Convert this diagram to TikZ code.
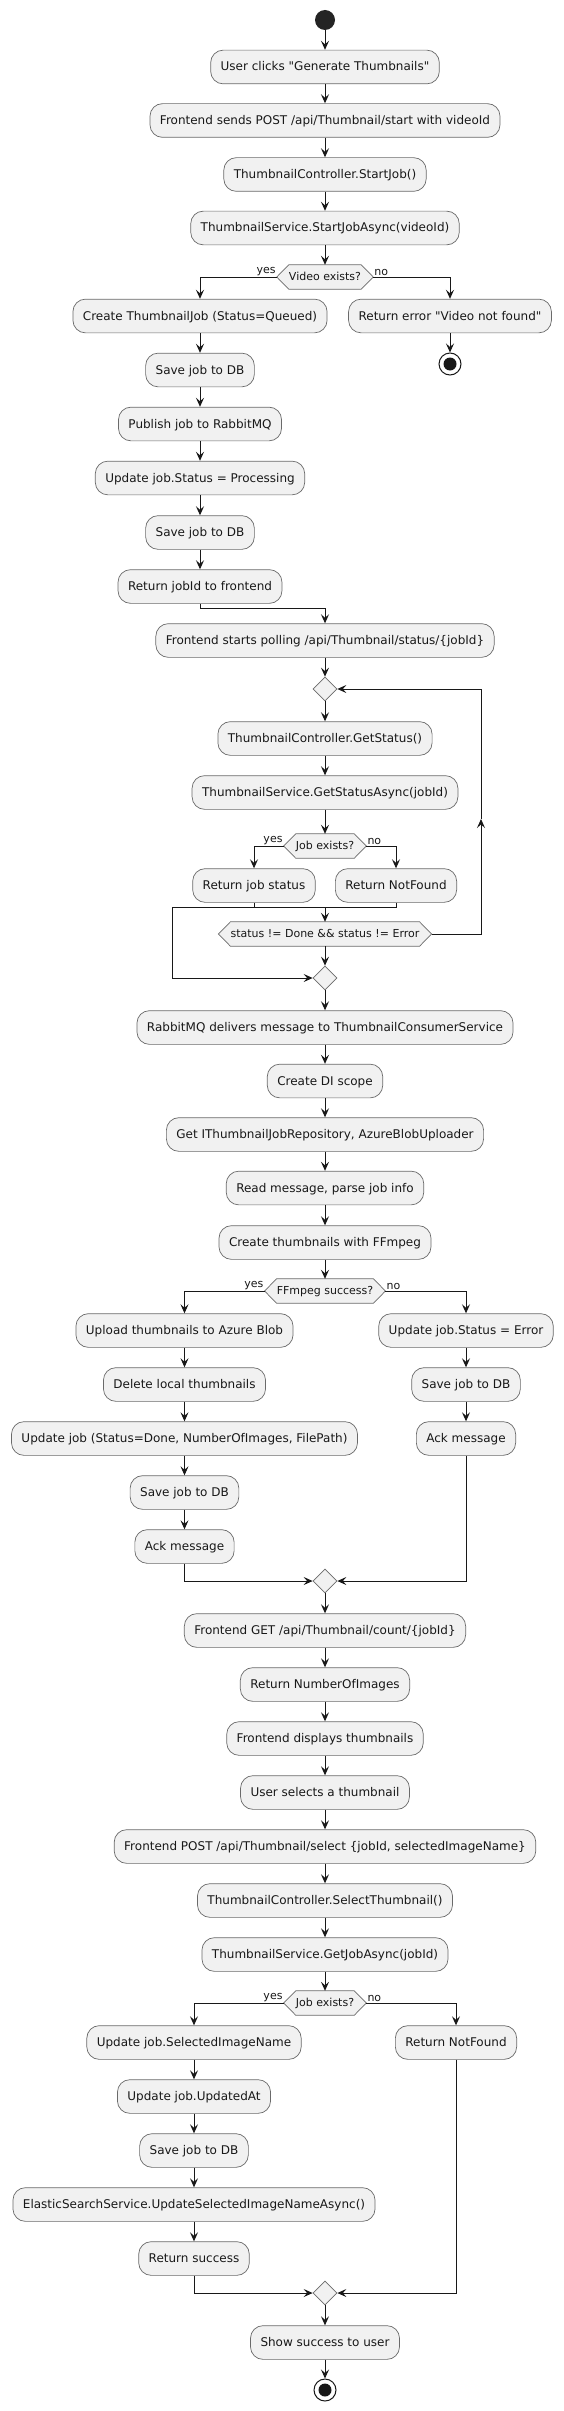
\documentclass[tikz,border=0pt]{standalone}
\usepackage{fontspec}
\setmainfont{DejaVu Sans}
\newfontfamily\plainfont{DejaVu Sans}[Ligatures=ResetAll]
\usetikzlibrary{arrows.meta,shapes.geometric,backgrounds}
\definecolor{boxfill}{HTML}{F1F1F1}
\definecolor{boxline}{HTML}{6A6A6A}
\definecolor{ink}{HTML}{181818}
\newcommand\drawhexagon[1]{%
  \draw[fill=boxfill,draw=boxline,line width=0.7pt]
    (#1.west) -- ([xshift=12pt]#1.north west) -- ([xshift=-12pt]#1.north east)
    -- (#1.east) -- ([xshift=-12pt]#1.south east) -- ([xshift=12pt]#1.south west) -- cycle;}
\newcommand\dq{{\plainfont\char34\relax}}
\begin{document}
\begin{tikzpicture}[x=1pt,y=-1pt,
  act/.style={rectangle, rounded corners=12.5pt, fill=boxfill, draw=boxline, line width=0.7pt,
    inner xsep=10pt, inner ysep=0pt, minimum height=33.7pt, text height=9.5pt, text depth=1.5pt,
    font=\fontsize{12}{14}\selectfont, text=ink},
  dec/.style={rectangle, inner xsep=12pt, inner ysep=0pt, minimum height=24pt,
    text height=8.5pt, text depth=2pt, font=\fontsize{11}{13}\selectfont, text=ink},
  mrg/.style={diamond, fill=boxfill, draw=boxline, line width=0.7pt,
    minimum width=24pt, minimum height=24pt, inner sep=0pt},
  arr/.style={draw=ink, line width=1pt, -{Stealth[length=9pt,width=8pt,inset=3.5pt]}},
  ln/.style={draw=ink, line width=1pt},
  lab/.style={font=\fontsize{11}{13}\selectfont, inner sep=1pt, text=ink},
  startnode/.style={circle, fill=ink!95, minimum size=20pt, inner sep=0pt},
  endnode/.style={circle, draw=ink, line width=1pt, fill=white, minimum size=22pt, inner sep=0pt,
    path picture={\fill[ink] (path picture bounding box.center) circle (6.5pt);}}
]
\useasboundingbox (0,0) rectangle (563,2411);

% nodes
\node[startnode] (st) at (325,20) {};
\node[act] (b1) at (325,67) {User clicks \dq Generate Thumbnails\dq};
\node[act] (b2) at (325,120.5) {Frontend sends POST /api/Thumbnail/start with videoId};
\node[act] (b3) at (325,174.5) {ThumbnailController.StartJob()};
\node[act] (b4) at (325,228) {ThumbnailService.StartJobAsync(videoId)};
\node[dec] (d1) at (325,277) {Video exists?};
\node[act] (b5) at (200,316) {Create ThumbnailJob (Status=Queued)};
\node[act] (b6) at (450,316) {Return error \dq Video not found\dq};
\node[endnode] (en1) at (450,364) {};
\node[act] (b7) at (200,370) {Save job to DB};
\node[act] (b8) at (200,424) {Publish job to RabbitMQ};
\node[act] (b9) at (200,478) {Update job.Status = Processing};
\node[act] (b10) at (200,532.5) {Save job to DB};
\node[act] (b11) at (200,586.5) {Return jobId to frontend};
\coordinate (j1) at (325,608);
\node[act] (b12) at (325,640.5) {Frontend starts polling /api/Thumbnail/status/\{jobId\}};
\node[mrg] (m1) at (325,689) {};
\node[act] (b13) at (325,738.5) {ThumbnailController.GetStatus()};
\node[act] (b14) at (325,792.5) {ThumbnailService.GetStatusAsync(jobId)};
\node[dec] (d2) at (325,846) {Job exists?};
\node[act] (b15) at (254,885.5) {Return job status};
\node[act] (b16) at (396,885.5) {Return NotFound};
\coordinate (jl) at (172,907);
\coordinate (jm) at (325,907);
\node[dec] (h1) at (325,934) {status != Done \&\& status != Error};
\coordinate (lpa) at (481,819);
\node[mrg] (m2) at (325,978) {};
\node[act] (b17) at (325,1027.5) {RabbitMQ delivers message to ThumbnailConsumerService};
\node[act] (b18) at (325,1081) {Create DI scope};
\node[act] (b19) at (325,1134.5) {Get IThumbnailJobRepository, AzureBlobUploader};
\node[act] (b20) at (325,1188) {Read message, parse job info};
\node[act] (b21) at (325,1242.5) {Create thumbnails with FFmpeg};
\node[dec] (d3) at (325,1291) {FFmpeg success?};
\node[act] (b22) at (184.5,1330.5) {Upload thumbnails to Azure Blob};
\node[act] (b23) at (466,1330.5) {Update job.Status = Error};
\node[act] (b24) at (184.5,1384.5) {Delete local thumbnails};
\node[act] (b26) at (466,1384.5) {Save job to DB};
\node[act] (b25) at (184.5,1438.5) {Update job (Status=Done, NumberOfImages, FilePath)};
\node[act] (b27) at (466,1438.5) {Ack message};
\node[act] (b28) at (184.5,1492.5) {Save job to DB};
\node[act] (b29) at (184.5,1546.5) {Ack message};
\node[mrg] (m3) at (325,1581) {};
\node[act] (b30) at (325,1630.5) {Frontend GET /api/Thumbnail/count/\{jobId\}};
\node[act] (b31) at (325,1684.5) {Return NumberOfImages};
\node[act] (b32) at (325,1738.5) {Frontend displays thumbnails};
\node[act] (b33) at (325,1792.5) {User selects a thumbnail};
\node[act] (b34) at (325,1846.5) {Frontend POST /api/Thumbnail/select \{jobId, selectedImageName\}};
\node[act] (b35) at (325,1900.5) {ThumbnailController.SelectThumbnail()};
\node[act] (b36) at (325,1954.5) {ThumbnailService.GetJobAsync(jobId)};
\node[dec] (d4) at (325,2003) {Job exists?};
\node[act] (b37) at (194,2042.5) {Update job.SelectedImageName};
\node[act] (b38) at (456,2042.5) {Return NotFound};
\node[act] (b39) at (194,2096.5) {Update job.UpdatedAt};
\node[act] (b40) at (194,2150.5) {Save job to DB};
\node[act] (b41) at (194,2204.5) {ElasticSearchService.UpdateSelectedImageNameAsync()};
\node[act] (b42) at (194,2258.5) {Return success};
\node[mrg] (m4) at (325,2293) {};
\node[act] (b43) at (325,2342.5) {Show success to user};
\node[endnode] (en2) at (325,2390) {};

\begin{scope}[on background layer]
  \fill[white] (0,0) rectangle (563,2411);
  \drawhexagon{d1}
  \drawhexagon{d2}
  \drawhexagon{h1}
  \drawhexagon{d3}
  \drawhexagon{d4}
\end{scope}

% branch labels
\node[lab, anchor=south east] (y1) at (d1.west) {yes};
\node[lab, anchor=south west] (n1) at (d1.east) {no};
\node[lab, anchor=south east] (y2) at (d2.west) {yes};
\node[lab, anchor=south west] (n2) at (d2.east) {no};
\node[lab, anchor=south east] (y3) at (d3.west) {yes};
\node[lab, anchor=south west] (n3) at (d3.east) {no};
\node[lab, anchor=south east] (y4) at (d4.west) {yes};
\node[lab, anchor=south west] (n4) at (d4.east) {no};

% connectors
\draw[arr] (st) -- (b1);
\draw[arr] (b1) -- (b2);
\draw[arr] (b2) -- (b3);
\draw[arr] (b3) -- (b4);
\draw[arr] (b4) -- (d1);
\draw[arr] (d1.west) -| (b5.north);
\draw[arr] (d1.east) -| (b6.north);
\draw[arr] (b6) -- (en1);
\draw[arr] (b5) -- (b7);
\draw[arr] (b7) -- (b8);
\draw[arr] (b8) -- (b9);
\draw[arr] (b9) -- (b10);
\draw[arr] (b10) -- (b11);
\draw[arr] (b11.south) |- (j1) -- (b12.north);
\draw[arr] (b12) -- (m1);
\draw[arr] (m1) -- (b13);
\draw[arr] (b13) -- (b14);
\draw[arr] (b14) -- (d2);
\draw[arr] (d2.west) -| (b15.north);
\draw[arr] (d2.east) -| (b16.north);
\draw[ln] (b15.south) -- (b15.south |- jl);
\draw[ln] (b16.south) |- (jl);
\draw[arr] (jm) -- (h1.north);
\draw[arr] (jl) |- (m2.west);
\draw[arr] (h1) -- (m2);
\draw[arr] (h1.east) -| (lpa);
\draw[arr] (lpa) |- (m1.east);
\draw[arr] (m2) -- (b17);
\draw[arr] (b17) -- (b18);
\draw[arr] (b18) -- (b19);
\draw[arr] (b19) -- (b20);
\draw[arr] (b20) -- (b21);
\draw[arr] (b21) -- (d3);
\draw[arr] (d3.west) -| (b22.north);
\draw[arr] (d3.east) -| (b23.north);
\draw[arr] (b22) -- (b24);
\draw[arr] (b24) -- (b25);
\draw[arr] (b25) -- (b28);
\draw[arr] (b28) -- (b29);
\draw[arr] (b23) -- (b26);
\draw[arr] (b26) -- (b27);
\draw[arr] (b29.south) |- (m3.west);
\draw[arr] (b27.south) |- (m3.east);
\draw[arr] (m3) -- (b30);
\draw[arr] (b30) -- (b31);
\draw[arr] (b31) -- (b32);
\draw[arr] (b32) -- (b33);
\draw[arr] (b33) -- (b34);
\draw[arr] (b34) -- (b35);
\draw[arr] (b35) -- (b36);
\draw[arr] (b36) -- (d4);
\draw[arr] (d4.west) -| (b37.north);
\draw[arr] (d4.east) -| (b38.north);
\draw[arr] (b37) -- (b39);
\draw[arr] (b39) -- (b40);
\draw[arr] (b40) -- (b41);
\draw[arr] (b41) -- (b42);
\draw[arr] (b42.south) |- (m4.west);
\draw[arr] (b38.south) |- (m4.east);
\draw[arr] (m4) -- (b43);
\draw[arr] (b43) -- (en2);
\end{tikzpicture}
\end{document}
